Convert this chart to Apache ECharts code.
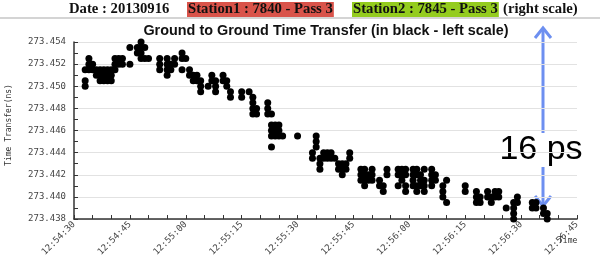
<!DOCTYPE html>
<html><head><meta charset="utf-8">
<script src="https://cdn.jsdelivr.net/npm/echarts@6/dist/echarts.min.js"></script>
<style>html,body{margin:0;padding:0;background:#fff}#c{width:600px;height:259px}</style>
</head><body><div id="c"></div>
<script>
// seconds after 12:54:30 for each measurement column
const columnSeconds = [3,4,5,6,7,8,9,10,11,12,13,15,17,18,19,20,
  23,25,26,27,29,30,31,32,33,34,36,37,38,40,41,42,45,47,48,49,
  52,53,54,55,56,60,64,65,66,67,
  68,69,70,71,72,73,74,77,78,79,80,82,83,84,87,88,89,91,92,93,94,96,97,99,100,
  105,108,109,111,112,113,114,116,118,119,123,124,126,127];
// time transfer values (ns) in each column
const columnValues = [
  [273.4500,273.4505,273.4515],[273.4515,273.4520,273.4525],[273.4515,273.4520],[273.4510,273.4515],
  [273.4505,273.4510,273.4515],[273.4505,273.4510,273.4515],[273.4505,273.4510,273.4515],[273.4505,273.4510,273.4515],
  [273.4515,273.4520,273.4525],[273.4520,273.4525],[273.4520,273.4525],[273.4520,273.4535],
  [273.4530,273.4535],[273.4525,273.4530,273.4535,273.4540],[273.4525,273.4535],[273.4525],
  [273.4515,273.4520,273.4525],[273.4510,273.4515,273.4520,273.4525],[273.4515,273.4520],[273.4520,273.4525],
  [273.4515,273.4525,273.4530],[273.4525],[273.4510,273.4515],[273.4505,273.4510],[273.4505,273.4510],
  [273.4495,273.4500,273.4505],[273.4500],[273.4505,273.4510],[273.4495,273.4500,273.4505],
  [273.4505,273.4510],[273.4500,273.4505],[273.4490,273.4495],[273.4490,273.4495],[273.4495],
  [273.4475,273.4480,273.4485,273.4490],[273.4475,273.4480],
  [273.4475,273.4480,273.4485],[273.4445,273.4455,273.4460,273.4465,273.4475],[273.4455,273.4460,273.4465],
  [273.4455,273.4460,273.4465],[273.4455],[273.4455],[273.4435,273.4440],[273.4445,273.4450,273.4455],
  [273.4425,273.4430,273.4435],[273.4435,273.4440],
  [273.4435,273.4440],[273.4435,273.4440],[273.4435],[273.4425,273.4430],[273.4420,273.4425,273.4430],
  [273.4425,273.4430],[273.4435,273.4440],[273.4415,273.4420,273.4425],[273.4410,273.4415,273.4420,273.4425],
  [273.4415,273.4420],[273.4415,273.4420,273.4425],[273.4410,273.4415],[273.4405,273.4410],[273.4420,273.4425],
  [273.4410,273.4420,273.4425],[273.4415,273.4420,273.4425],[273.4405,273.4410,273.4420,273.4425],
  [273.4410,273.4415,273.4420,273.4425],[273.4405,273.4410,273.4420,273.4425],[273.4410,273.4415,273.4420],
  [273.4405,273.4410,273.4415,273.4425],[273.4410,273.4415,273.4420,273.4425],[273.4415,273.4420],
  [273.4400,273.4405,273.4410],[273.4395,273.4415],
  [273.4405,273.4410],[273.4395,273.4400,273.4405],[273.4395,273.4400],[273.4400,273.4405],[273.4395,273.4400],
  [273.4400,273.4405],[273.4400,273.4405],[273.4390],[273.4380,273.4385,273.4390,273.4395],[273.4395,273.4400],
  [273.4390,273.4395],[273.4390,273.4395],[273.4385,273.4390],[273.4380,273.4385]
];
const startClock = 12*3600 + 54*60 + 30; // 12:54:30
const yMin = 273.438, yMax = 273.454, yStep = 0.002;
const xMin = 0, xMax = 135, xStep = 15;

const points = [];
columnSeconds.forEach((s, i) => columnValues[i].forEach(v => points.push([s, v])));

function clock(s) {
  const t = startClock + Math.round(s);
  const p = n => String(n).padStart(2, '0');
  return p(Math.floor(t/3600)) + ':' + p(Math.floor(t%3600/60)) + ':' + p(t%60);
}

const chart = echarts.init(document.getElementById('c'), null, {renderer: 'canvas'});
const mono = '"DejaVu Sans Mono", monospace';
const serifBold = 'bold 14.7px "Liberation Serif", serif';
chart.setOption({
  animation: false,
  backgroundColor: '#fff',
  grid: {left: 74, right: 23, top: 42, bottom: 37},
  xAxis: {
    type: 'value', min: xMin, max: xMax, interval: xStep,
    axisLine: {lineStyle: {color: '#333', width: 1.5}},
    axisTick: {inside: true, length: 4, lineStyle: {color: '#333'}},
    minorTick: {show: true, splitNumber: 3, length: 4, lineStyle: {color: '#333'}},
    splitLine: {show: false},
    axisLabel: {rotate: 45, margin: 4, fontFamily: mono, fontSize: 9, color: '#444',
      formatter: v => clock(v)}
  },
  yAxis: {
    type: 'value', min: yMin, max: yMax, interval: yStep,
    axisLine: {show: true, lineStyle: {color: '#333', width: 1.5}},
    axisTick: {show: true, inside: true, length: 4, lineStyle: {color: '#333'}},
    minorTick: {show: true, splitNumber: 2, length: 4, lineStyle: {color: '#333'}},
    splitLine: {show: true, lineStyle: {color: '#e2e2e2', width: 1}},
    axisLabel: {margin: 8, fontFamily: mono, fontSize: 9, color: '#444',
      formatter: v => v.toFixed(3)}
  },
  series: [{
    type: 'scatter', data: points, symbol: 'circle', symbolSize: 7,
    itemStyle: {color: '#000', opacity: 1}, clip: false
  }],
  graphic: [
    {type: 'rect', shape: {x: 0, y: 17, width: 600, height: 2}, style: {fill: '#d4d4d4'}},
    {type: 'text', x: 69, y: 9.5, style: {text: 'Date : 20130916', font: serifBold, fill: '#111', textVerticalAlign: 'middle'}},
    {type: 'text', x: 187, y: 9.5, style: {text: 'Station1 : 7840 - Pass 3', font: serifBold, fill: '#111', textVerticalAlign: 'middle', backgroundColor: '#d9534a', padding: [0, 1, 0, 1]}},
    {type: 'text', x: 352, y: 9.5, style: {text: 'Station2 : 7845 - Pass 3', font: serifBold, fill: '#111', textVerticalAlign: 'middle', backgroundColor: '#94cc1e', padding: [0, 1, 0, 1]}},
    {type: 'text', x: 503, y: 9.5, style: {text: '(right scale)', font: serifBold, fill: '#111', textVerticalAlign: 'middle'}},
    {type: 'text', x: 326, y: 31, style: {text: 'Ground to Ground Time Transfer (in black - left scale)', font: 'bold 14.4px "Liberation Sans", Arial, sans-serif', fill: '#111', textAlign: 'center', textVerticalAlign: 'middle'}},
    {type: 'text', x: 9, y: 125, rotation: Math.PI/2, style: {text: 'Time Transfer(ns)', font: '8px ' + mono, fill: '#333', textAlign: 'center', textVerticalAlign: 'middle'}},
    {type: 'text', x: 558, y: 241, style: {text: 'Time', font: '8px ' + mono, fill: '#333', textVerticalAlign: 'middle'}},
    {type: 'line', shape: {x1: 543, y1: 28, x2: 543, y2: 206}, style: {stroke: '#6d8ff0', lineWidth: 3}},
    {type: 'polyline', shape: {points: [[535, 38], [543, 28], [551, 38]]}, style: {stroke: '#6d8ff0', lineWidth: 3, fill: null}},
    {type: 'polyline', shape: {points: [[535, 196], [543, 206], [551, 196]]}, style: {stroke: '#6d8ff0', lineWidth: 3, fill: null}},
    {type: 'text', x: 541, y: 150, style: {text: '16 ps', font: '34px "Liberation Sans", Arial, sans-serif', fill: '#000', textAlign: 'center', textVerticalAlign: 'middle', backgroundColor: '#fff'}}
  ]
});
</script></body></html>
